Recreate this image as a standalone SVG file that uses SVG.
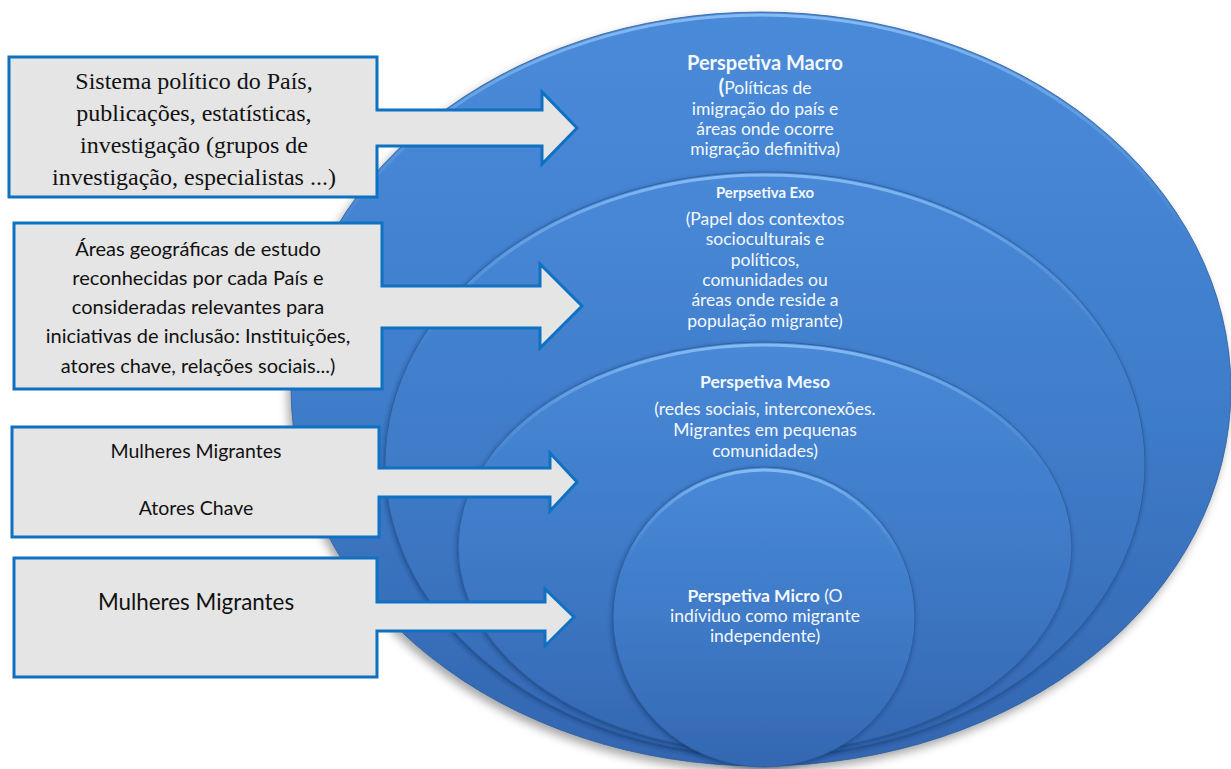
<svg xmlns="http://www.w3.org/2000/svg" width="1231" height="769" viewBox="0 0 1231 769">
<style>
.box{fill:#E5E5E5;stroke:#0F71C2;stroke-width:3;stroke-linejoin:miter}
.ser{font-family:"Liberation Serif","Times New Roman",serif;font-size:24px;fill:#111;text-anchor:middle}
.san{font-family:Lato,"Noto Sans","Liberation Sans",sans-serif;fill:#111;text-anchor:middle}
.wt{font-family:Lato,"Noto Sans","Liberation Sans",sans-serif;fill:#F4F8FD;text-anchor:middle;font-size:17.5px}
.b{font-weight:bold}
.ell{stroke:#2A5894;stroke-width:1;stroke-opacity:0.75}
.rim{fill:none;stroke:url(#rim);stroke-width:3}
</style>
<defs>
<linearGradient id="gOuter" x1="0" y1="0" x2="0" y2="1">
<stop offset="0" stop-color="#4A8BD9"/>
<stop offset="0.5" stop-color="#3F7DCB"/>
<stop offset="1" stop-color="#3366B0"/>
</linearGradient>
<linearGradient id="gIn" x1="0" y1="0" x2="0" y2="1">
<stop offset="0" stop-color="#4889D7"/>
<stop offset="0.55" stop-color="#3E79C6"/>
<stop offset="1" stop-color="#3467B2"/>
</linearGradient>
<linearGradient id="rim" x1="0" y1="0" x2="0" y2="1">
<stop offset="0" stop-color="#8CC0F5" stop-opacity="0.9"/>
<stop offset="0.15" stop-color="#8CC0F5" stop-opacity="0.3"/>
<stop offset="0.3" stop-color="#8CC0F5" stop-opacity="0"/>
</linearGradient>
<filter id="sh" x="-10%" y="-10%" width="120%" height="125%">
<feDropShadow dx="-3" dy="5" stdDeviation="5" flood-color="#000" flood-opacity="0.35"/>
</filter>
<filter id="sh2" x="-10%" y="-10%" width="120%" height="125%">
<feDropShadow dx="-1" dy="2" stdDeviation="2.5" flood-color="#0A2350" flood-opacity="0.45"/>
</filter>
</defs>
<rect width="1231" height="769" fill="#FFFFFF"/>

<g id="macro">
<ellipse class="ell" cx="761" cy="389" rx="470" ry="377" fill="url(#gOuter)" filter="url(#sh)"/>
<ellipse class="rim" cx="761" cy="390" rx="468" ry="375"/>
<text class="wt b" x="765" y="70" style="font-size:20px">Perspetiva Macro</text>
<text class="wt" x="765" y="94"><tspan class="b" style="font-size:21px">(</tspan>Políticas de</text>
<text class="wt" x="765" y="115">imigração do país e</text>
<text class="wt" x="765" y="135">áreas onde ocorre</text>
<text class="wt" x="765" y="155">migração definitiva)</text>
</g>

<g id="exo">
<ellipse class="ell" cx="765" cy="464" rx="380" ry="292" fill="url(#gIn)" filter="url(#sh2)"/>
<ellipse class="rim" cx="765" cy="465" rx="378" ry="290"/>
<text class="wt b" x="765" y="198" style="font-size:14.9px">Perpsetiva Exo</text>
<text class="wt" x="765" y="225">(Papel dos contextos</text>
<text class="wt" x="765" y="245">socioculturais e</text>
<text class="wt" x="765" y="266">políticos,</text>
<text class="wt" x="765" y="286">comunidades ou</text>
<text class="wt" x="765" y="306">áreas onde reside a</text>
<text class="wt" x="765" y="327">população migrante)</text>
</g>

<g id="meso">
<ellipse class="ell" cx="765" cy="547" rx="307" ry="205" fill="url(#gIn)" filter="url(#sh2)"/>
<ellipse class="rim" cx="765" cy="548" rx="305" ry="203"/>
<text class="wt b" x="765" y="388">Perspetiva Meso</text>
<text class="wt" x="765" y="415">(redes sociais, interconexões.</text>
<text class="wt" x="765" y="436">Migrantes em pequenas</text>
<text class="wt" x="765" y="457">comunidades)</text>
</g>

<g id="micro">
<ellipse class="ell" cx="764" cy="617" rx="151" ry="150" fill="url(#gIn)" filter="url(#sh2)"/>
<ellipse class="rim" cx="764" cy="618" rx="149" ry="148"/>
<text class="wt" x="765" y="602"><tspan class="b">Perspetiva Micro</tspan> (O</text>
<text class="wt" x="765" y="622">indíviduo como migrante</text>
<text class="wt" x="765" y="642">independente)</text>
</g>

<g id="connectors"></g>

<g id="source-macro">
<path class="box" d="M9,57 H377 V110 H542 V92 L577,128 L542,164 V146 H377 V197 H9 Z"/>
<text class="ser" x="194" y="89">Sistema político do País,</text>
<text class="ser" x="194" y="121">publicações, estatísticas,</text>
<text class="ser" x="194" y="153">investigação (grupos de</text>
<text class="ser" x="194" y="185">investigação, especialistas ...)</text>
</g>

<g id="source-exo">
<path class="box" d="M14,223 H382 V286 H540 V264 L582,306 L540,348 V328 H382 V389 H14 Z"/>
<text class="san" x="198" y="256" font-size="20px">Áreas geográficas de estudo</text>
<text class="san" x="198" y="285" font-size="20px">reconhecidas por cada País e</text>
<text class="san" x="198" y="314" font-size="20px">consideradas relevantes para</text>
<text class="san" x="198" y="343" font-size="20px">iniciativas de inclusão: Instituições,</text>
<text class="san" x="198" y="373" font-size="20px">atores chave, relações sociais...)</text>
</g>

<g id="source-meso">
<path class="box" d="M12,427 H379 V468 H550 V453 L577,482 L550,511 V497 H379 V537 H12 Z"/>
<text class="san" x="196" y="458" font-size="19.5px">Mulheres Migrantes</text>
<text class="san" x="196" y="515" font-size="19.5px">Atores Chave</text>
</g>

<g id="source-micro">
<path class="box" d="M14,558 H377 V602 H545 V589 L574,617 L545,646 V631 H377 V677 H14 Z"/>
<text class="san" x="196" y="610" font-size="22.4px">Mulheres Migrantes</text>
</g>
</svg>
